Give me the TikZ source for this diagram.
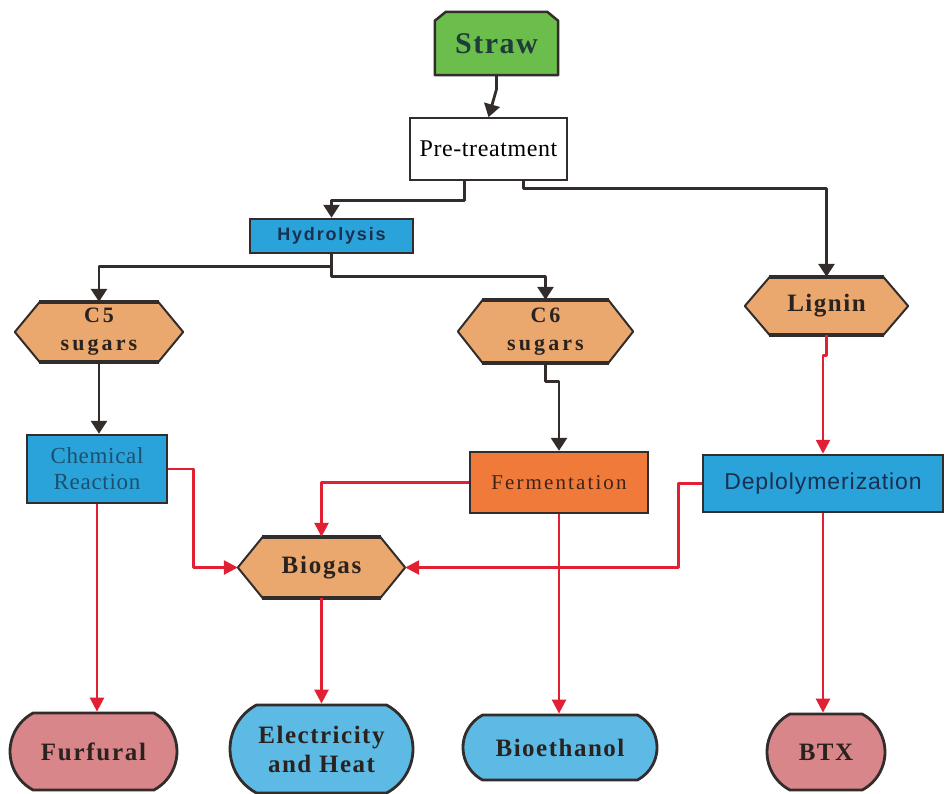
\documentclass[tikz,border=0pt]{standalone}
\usepackage{fontspec}
\setmainfont{Liberation Serif}
\newfontfamily\sansf{Liberation Sans}
\usetikzlibrary{arrows.meta,shapes.misc,backgrounds}

\definecolor{strawgreen}{RGB}{108,190,76}
\definecolor{hexorange}{RGB}{234,168,110}
\definecolor{procblue}{RGB}{41,163,218}
\definecolor{fermorange}{RGB}{240,122,58}
\definecolor{prodpink}{RGB}{217,134,138}
\definecolor{prodblue}{RGB}{92,186,228}
\definecolor{flowred}{RGB}{226,32,52}
\definecolor{inkdark}{RGB}{50,44,42}
\definecolor{textdark}{RGB}{42,34,30}
\definecolor{strawtext}{RGB}{30,60,58}
\definecolor{navytext}{RGB}{26,48,80}
\definecolor{tealtext}{RGB}{28,80,110}
\definecolor{browntext}{RGB}{62,36,24}

% size, baseline skip, letter spacing
\newcommand\nfont[3]{\fontsize{#1}{#2}\selectfont\addfontfeature{LetterSpace=#3}}

\begin{document}
\begin{tikzpicture}[x=1pt,y=-1pt,
  shapebox/.style={inner sep=0pt, align=center, text=textdark},
  rectbox/.style={draw=inkdark, line width=2.5pt, inner sep=0pt, align=center},
  endcap/.style={rounded rectangle, rounded rectangle arc length=124,
    draw=inkdark, line width=2.8pt, inner sep=0pt, align=center, text=textdark},
  hexpath/.style={fill=hexorange, draw=inkdark, line width=2pt, line join=round},
  hexedge/.style={draw=inkdark, line width=3.5pt},
  darkflow/.style={draw=inkdark, line width=2.8pt, line join=round,
    -{Triangle[width=16pt,length=13pt]}},
  redflow/.style={draw=flowred, line width=2.6pt, line join=round,
    -{Triangle[width=14pt,length=14pt]}},
]
\useasboundingbox (0,0) rectangle (950,793);

% ---- source and process boxes ----
\node[shapebox, minimum width=123pt, minimum height=63pt, text=strawtext,
  font={\bfseries\nfont{30}{34}{5}}]
  (straw) at (496.5,43.5) {Straw};
\node[rectbox, line width=1.6pt, fill=white, minimum width=157pt, minimum height=62pt,
  font={\nfont{24}{28}{2.5}}]
  (pre) at (488.5,149) {Pre-treatment};
\node[rectbox, fill=procblue, minimum width=163pt, minimum height=34pt, text=navytext,
  font={\sansf\bfseries\nfont{18}{20}{10}}]
  (hydro) at (331.5,236) {Hydrolysis};

% ---- sugar and lignin fractions ----
\node[shapebox, minimum width=168pt, minimum height=60pt,
  font={\bfseries\nfont{22}{28}{14}}]
  (c5) at (99,332) {C5\\sugars};
\node[shapebox, minimum width=175pt, minimum height=63pt,
  font={\bfseries\nfont{22}{28}{14}}]
  (c6) at (545.5,331.5) {C6\\sugars};
\node[shapebox, minimum width=163pt, minimum height=58pt,
  font={\bfseries\nfont{25}{28}{6}}]
  (lignin) at (826.5,306) {Lignin};

% ---- conversion steps ----
\node[rectbox, fill=procblue, minimum width=140pt, minimum height=68pt, text=tealtext,
  font={\nfont{23}{26}{3}}]
  (chem) at (97,469) {Chemical\\Reaction};
\node[rectbox, fill=fermorange, minimum width=178pt, minimum height=61pt, text=browntext,
  font={\nfont{21}{24}{10}}]
  (ferm) at (559,482.5) {Fermentation};
\node[rectbox, fill=procblue, minimum width=240pt, minimum height=57pt, text=navytext,
  font={\sansf\nfont{23}{26}{4}}]
  (depol) at (823,483.5) {Deplolymerization};
\node[shapebox, minimum width=167pt, minimum height=61pt,
  font={\bfseries\nfont{25}{28}{7}}]
  (biogas) at (321.5,567.5) {Biogas};

% ---- products ----
\node[endcap, fill=prodpink, minimum width=167pt, minimum height=77pt,
  font={\bfseries\nfont{25}{28}{7}}]
  (furfural) at (93.5,751.5) {Furfural};
\node[endcap, fill=prodblue, minimum width=183pt, minimum height=88pt,
  font={\bfseries\nfont{25}{29}{6}}]
  (elec) at (321.5,749) {Electricity\\and Heat};
\node[endcap, fill=prodblue, minimum width=194pt, minimum height=65pt,
  font={\bfseries\nfont{25}{28}{6}}]
  (bioeth) at (560,747.5) {Bioethanol};
\node[endcap, fill=prodpink, minimum width=118pt, minimum height=76pt,
  font={\bfseries\nfont{25}{28}{6}}]
  (btx) at (826,752) {BTX};

% ---- outlines of the custom shapes ----
\begin{scope}[on background layer]
  \filldraw[fill=strawgreen, draw=inkdark, line width=2.5pt, line join=round]
    (straw.south west) -- ([yshift=-9pt]straw.north west)
    -- ([xshift=11pt]straw.north west) -- ([xshift=-11pt]straw.north east)
    -- ([yshift=-9pt]straw.north east) -- (straw.south east) -- cycle;
  \foreach \n in {c5,c6,lignin,biogas}{
    \filldraw[hexpath] (\n.west) -- ([xshift=25pt]\n.north west)
      -- ([xshift=-25pt]\n.north east) -- (\n.east)
      -- ([xshift=-25pt]\n.south east) -- ([xshift=25pt]\n.south west) -- cycle;
    \draw[hexedge] ([xshift=24pt]\n.north west) -- ([xshift=-24pt]\n.north east);
    \draw[hexedge] ([xshift=24pt]\n.south west) -- ([xshift=-24pt]\n.south east);
  }
\end{scope}

% ---- dark connectors ----
\draw[darkflow] (straw.south) -- ++(0,14) -- (pre.north);
\draw[darkflow] ([xshift=-24pt]pre.south) -- ++(0,20) -| (hydro.north);
\draw[darkflow] ([xshift=35pt]pre.south) -- ++(0,8) -| (lignin.north);
\draw[darkflow] (hydro.south) -- ++(0,12) -| (c5.north);
\draw[darkflow] (hydro.south) -- ++(0,22) -| (c6.north);
\draw[darkflow] (c5.south) -- (c5.south |- chem.north);
\draw[darkflow] (c6.south) -- ++(0,18) -| (ferm.north);

% ---- red connectors ----
\draw[redflow] (lignin.south) -- ++(0,20) -| (depol.north);
\draw[redflow] (chem.east) -- ++(25,0) |- (biogas.west);
\draw[redflow] (ferm.west) -| (biogas.north);
\draw[redflow] (depol.west) -- ++(-23,0) |- (biogas.east);
\draw[redflow] (chem.south) -- (chem.south |- furfural.north);
\draw[redflow] (biogas.south) -- (elec.north);
\draw[redflow] (ferm.south) -- (ferm.south |- bioeth.north);
\draw[redflow] (depol.south) -- (depol.south |- btx.north);
\end{tikzpicture}
\end{document}
